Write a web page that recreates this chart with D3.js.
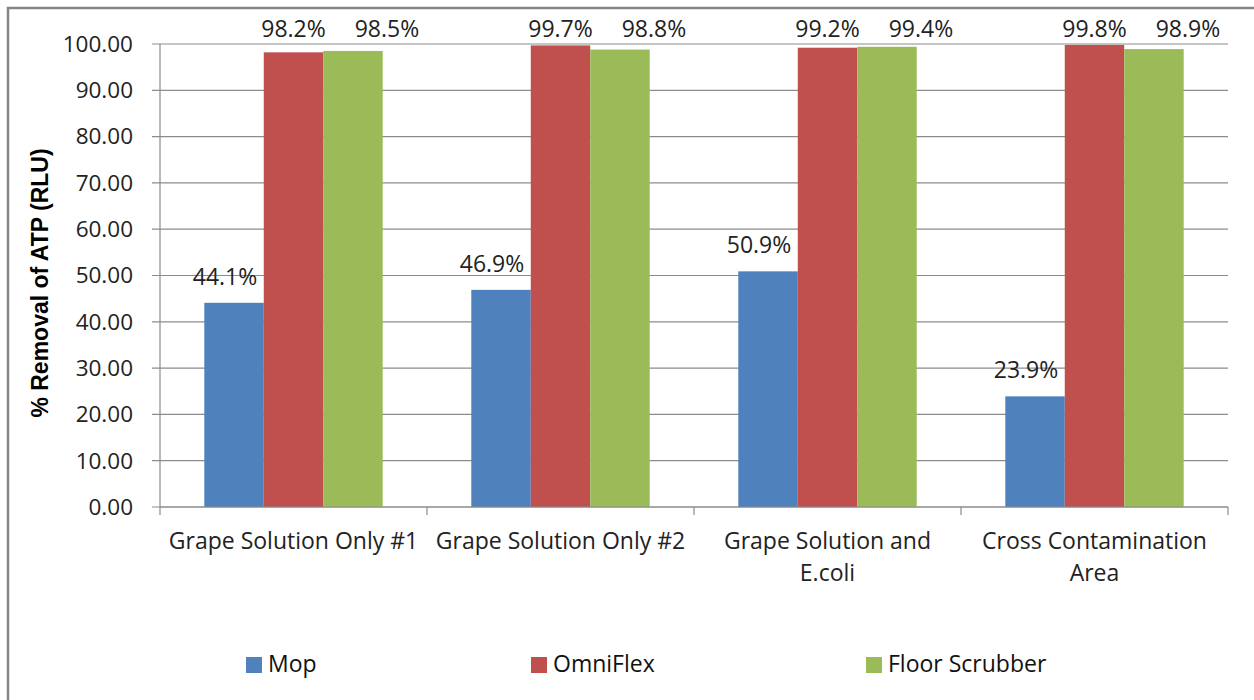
<!DOCTYPE html>
<html>
<head>
<meta charset="utf-8">
<script src="https://cdn.jsdelivr.net/npm/d3@7"></script>
<style>
  body { margin: 0; background: #fff; }
  svg { display: block; }
</style>
</head>
<body>
<div id="chart"></div>
<script>
const categories = [
  ["Grape Solution Only #1"],
  ["Grape Solution Only #2"],
  ["Grape Solution and", "E.coli"],
  ["Cross Contamination", "Area"]
];
const seriesNames = ["Mop", "OmniFlex", "Floor Scrubber"];
const mop = [44.1, 46.9, 50.9, 23.9];
const omniFlex = [98.2, 99.7, 99.2, 99.8];
const floorScrubber = [98.5, 98.8, 99.4, 98.9];
const yTicks = [0, 10, 20, 30, 40, 50, 60, 70, 80, 90, 100];
const colors = ["#4F81BD", "#C0504D", "#9BBB59"];

const width = 1254;
const height = 700;
const font = "'Open Sans', sans-serif";
const margin = {left: 160, right: 26, top: 44, bottom: 193};

const series = [mop, omniFlex, floorScrubber];
// Excel nudged the data labels sideways
const labelShift = [-9, 0, 34];

const svg = d3.select("#chart").append("svg")
    .attr("width", width)
    .attr("height", height);

svg.append("rect")
    .attr("x", 8).attr("y", 8)
    .attr("width", width + 20).attr("height", height + 20)
    .attr("fill", "#fff")
    .attr("stroke", "#868686")
    .attr("stroke-width", 2.5);

const x0 = d3.scaleBand()
    .domain(d3.range(categories.length))
    .range([margin.left, width - margin.right])
    .paddingInner(0)
    .paddingOuter(0);

const x1 = d3.scaleBand()
    .domain(d3.range(seriesNames.length))
    .range([0, x0.bandwidth()])
    .paddingOuter(0.745)
    .paddingInner(0);

const y = d3.scaleLinear()
    .domain([0, 100])
    .range([height - margin.bottom, margin.top]);

// gridlines
svg.append("g")
  .selectAll("line")
  .data(yTicks)
  .enter().append("line")
    .attr("x1", margin.left - 8)
    .attr("x2", width - margin.right)
    .attr("y1", d => y(d))
    .attr("y2", d => y(d))
    .attr("stroke", "#8c8c8c")
    .attr("stroke-width", 1.2);

// y tick labels
svg.append("g")
  .selectAll("text")
  .data(yTicks)
  .enter().append("text")
    .attr("x", margin.left - 27)
    .attr("y", d => y(d))
    .attr("dy", "0.35em")
    .attr("text-anchor", "end")
    .style("font-family", font)
    .style("font-size", "22.5px")
    .attr("fill", "#222")
    .text(d => d3.format(".2f")(d));

// bars
const groups = svg.append("g")
  .selectAll("g")
  .data(categories)
  .enter().append("g")
    .attr("transform", (d, i) => "translate(" + x0(i) + ",0)");

groups.selectAll("rect")
    .data((d, i) => series.map((s, j) => ({j: j, v: s[i]})))
  .enter().append("rect")
    .attr("x", d => x1(d.j))
    .attr("width", x1.bandwidth())
    .attr("y", d => y(d.v))
    .attr("height", d => y(0) - y(d.v))
    .attr("fill", d => colors[d.j]);

groups.selectAll("text.lbl")
    .data((d, i) => series.map((s, j) => ({j: j, v: s[i]})))
  .enter().append("text")
    .attr("class", "lbl")
    .attr("x", d => x1(d.j) + x1.bandwidth() / 2 + labelShift[d.j])
    .attr("y", d => Math.max(y(d.v) - 18, y(100) - 7))
    .attr("text-anchor", "middle")
    .style("font-family", font)
    .style("font-size", "23px")
    .attr("fill", "#222")
    .text(d => d.v.toFixed(1) + "%");

// axes lines
svg.append("line")
    .attr("x1", margin.left).attr("x2", margin.left)
    .attr("y1", y(100)).attr("y2", y(0))
    .attr("stroke", "#8c8c8c").attr("stroke-width", 1.2);

svg.append("line")
    .attr("x1", margin.left).attr("x2", width - margin.right)
    .attr("y1", y(0)).attr("y2", y(0))
    .attr("stroke", "#8c8c8c").attr("stroke-width", 1.2);

svg.append("g")
  .selectAll("line")
  .data(d3.range(categories.length + 1))
  .enter().append("line")
    .attr("x1", i => margin.left + i * x0.bandwidth())
    .attr("x2", i => margin.left + i * x0.bandwidth())
    .attr("y1", y(0))
    .attr("y2", y(0) + 8)
    .attr("stroke", "#8c8c8c").attr("stroke-width", 1.2);

// category labels
const cat = svg.append("g")
  .selectAll("text")
  .data(categories)
  .enter().append("text")
    .attr("x", (d, i) => x0(i) + x0.bandwidth() / 2)
    .attr("y", y(0) + 42)
    .attr("text-anchor", "middle")
    .style("font-family", font)
    .style("font-size", "23px")
    .attr("fill", "#222");

cat.selectAll("tspan")
    .data(d => d)
  .enter().append("tspan")
    .attr("x", function() { return this.parentNode.getAttribute("x"); })
    .attr("dy", (d, i) => i === 0 ? 0 : 32)
    .text(d => d);

// y title
svg.append("text")
    .attr("transform", "translate(48," + 283 + ")rotate(-90)")
    .attr("text-anchor", "middle")
    .style("font-family", "'Liberation Sans', Arial, sans-serif")
    .style("font-size", "23px")
    .style("font-weight", "bold")
    .attr("fill", "#000")
    .text("% Removal of ATP (RLU)");

// legend
const legendX = [246, 531, 866];
const legend = svg.append("g")
  .selectAll("g")
  .data(seriesNames)
  .enter().append("g")
    .attr("transform", (d, i) => "translate(" + legendX[i] + ",657)");

legend.append("rect")
    .attr("width", 16).attr("height", 16)
    .attr("fill", (d, i) => colors[i]);

legend.append("text")
    .attr("x", 22)
    .attr("y", 15)
    .style("font-family", font)
    .style("font-size", "23px")
    .attr("fill", "#111")
    .text(d => d);
</script>
</body>
</html>
